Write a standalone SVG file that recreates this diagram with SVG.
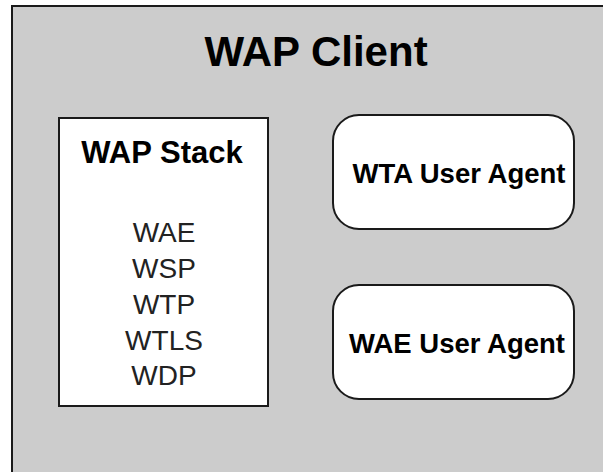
<svg xmlns="http://www.w3.org/2000/svg" width="603" height="472" viewBox="0 0 603 472">
  <style>
    .frame { fill: #cccccc; stroke: #1a1a1a; stroke-width: 2; }
    .box { fill: #ffffff; stroke: #1a1a1a; stroke-width: 2; }
    .title { font-family: "Liberation Sans", Arial, sans-serif; font-weight: bold; fill: #000; text-anchor: middle; }
    .item { font-family: "Liberation Sans", Arial, sans-serif; font-size: 28px; fill: #222; text-anchor: middle; }
  </style>
  <rect x="0" y="0" width="603" height="472" fill="#ffffff"/>

  <!-- client container -->
  <g id="wap-client">
    <rect class="frame" x="12" y="6" width="600" height="480"/>
    <text class="title" x="316" y="66" font-size="42">WAP Client</text>
  </g>

  <!-- protocol stack -->
  <g id="wap-stack">
    <rect class="box" x="59" y="118" width="209" height="288"/>
    <text class="title" x="162" y="163" font-size="31">WAP Stack</text>
    <text class="item" x="164" y="242">WAE</text>
    <text class="item" x="164" y="278">WSP</text>
    <text class="item" x="164" y="314">WTP</text>
    <text class="item" x="164" y="350">WTLS</text>
    <text class="item" x="164" y="385">WDP</text>
  </g>

  <g id="wta-user-agent">
    <rect class="box" x="333" y="115" width="241" height="114" rx="26" ry="26"/>
    <text class="title" x="459" y="183" font-size="27.5">WTA User Agent</text>
  </g>

  <g id="wae-user-agent">
    <rect class="box" x="333" y="285" width="241" height="114" rx="26" ry="26"/>
    <text class="title" x="457" y="353" font-size="27.5">WAE User Agent</text>
  </g>

  <g id="connectors"></g>
</svg>
